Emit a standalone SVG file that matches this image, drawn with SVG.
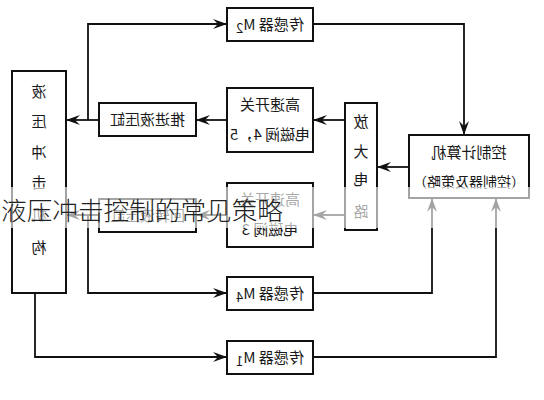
<svg xmlns="http://www.w3.org/2000/svg" width="544" height="400" viewBox="0 0 544 400">
<defs>
<style>
.box{fill:#fff;stroke:#111;stroke-width:2}
.ln{fill:none;stroke:#111;stroke-width:1.8}
.t{font-family:"Noto Sans CJK SC","Noto Sans",sans-serif;font-size:15px;fill:#1a1a1a;text-anchor:middle}
.s{font-size:13px}
.cap{font-family:"Noto Sans CJK SC","Noto Sans",sans-serif;font-size:25.5px;fill:#222;font-weight:300}
</style>
<marker id="ah" viewBox="0 0 14 10" refX="13" refY="5" markerWidth="14" markerHeight="10" markerUnits="userSpaceOnUse" orient="auto">
<path d="M0,0 L14,5 L0,10 L5,5 Z" fill="#111"/>
</marker>
</defs>
<rect width="544" height="400" fill="#fff"/>
<g id="connectors">
<polyline class="ln" points="99,120 67,120" marker-end="url(#ah)"/>
<polyline class="ln" points="88,120 88,24 226,24" marker-end="url(#ah)"/>
<polyline class="ln" points="313,24 464,24 464,134" marker-end="url(#ah)"/>
<polyline class="ln" points="227,120 197,120" marker-end="url(#ah)"/>
<polyline class="ln" points="345,120 314,120" marker-end="url(#ah)"/>
<polyline class="ln" points="409,167 378,167" marker-end="url(#ah)"/>
<polyline class="ln" points="345,215 314,215" marker-end="url(#ah)"/>
<polyline class="ln" points="227,215 197,215" marker-end="url(#ah)"/>
<polyline class="ln" points="99,215 67,215" marker-end="url(#ah)"/>
<polyline class="ln" points="88,215 88,293 226,293" marker-end="url(#ah)"/>
<polyline class="ln" points="35,293 35,357 226,357" marker-end="url(#ah)"/>
<polyline class="ln" points="313,293 432,293 432,199" marker-end="url(#ah)"/>
<polyline class="ln" points="313,357 496,357 496,199" marker-end="url(#ah)"/>
</g>
<g id="mechanism">
<rect class="box" x="12" y="71" width="54" height="222"/>
<g class="t" transform="scale(-1,1)">
<text x="-39" y="97">液</text>
<text x="-39" y="127">压</text>
<text x="-39" y="158">冲</text>
<text x="-39" y="188">击</text>
<text x="-39" y="220">机</text>
<text x="-39" y="253">构</text>
</g>
</g>
<g id="sensor-m2">
<rect class="box" x="227" y="8" width="86" height="33"/>
<text class="t" transform="scale(-1,1)" x="-270" y="30">传感器 M<tspan class="s" dy="3">2</tspan></text>
</g>
<g id="feed-cylinder">
<rect class="box" x="99" y="103" width="97" height="33"/>
<text class="t" transform="scale(-1,1)" x="-147.5" y="125">推进液压缸</text>
</g>
<g id="valve-45">
<rect class="box" x="227" y="88" width="86" height="64"/>
<text class="t" transform="scale(-1,1)" x="-270" y="110">高速开关</text>
<text class="t" transform="scale(-1,1)" x="-270" y="140">电磁阀 4，5</text>
</g>
<g id="amplifier">
<rect class="box" x="345" y="103" width="32" height="127"/>
<g class="t" transform="scale(-1,1)">
<text x="-361" y="127">放</text>
<text x="-361" y="157">大</text>
<text x="-361" y="185">电</text>
<text x="-361" y="217">路</text>
</g>
</g>
<g id="controller">
<rect class="box" x="409" y="135" width="120" height="63"/>
<text class="t" transform="scale(-1,1)" x="-469" y="158">控制计算机</text>
<text class="t" transform="scale(-1,1)" x="-469" y="187" style="font-size:14px">（控制器及策略）</text>
</g>
<g id="valve-3">
<rect class="box" x="227" y="183" width="86" height="64"/>
<text class="t" transform="scale(-1,1)" x="-270" y="205">高速开关</text>
<text class="t" transform="scale(-1,1)" x="-270" y="235">电磁阀 3</text>
</g>
<g id="rotary-cylinder">
<rect class="box" x="99" y="199" width="97" height="33"/>
<text class="t" transform="scale(-1,1)" x="-147.5" y="221">回转液压缸</text>
</g>
<g id="sensor-m4">
<rect class="box" x="227" y="277" width="86" height="33"/>
<text class="t" transform="scale(-1,1)" x="-270" y="299">传感器 M<tspan class="s" dy="3">4</tspan></text>
</g>
<g id="sensor-m1">
<rect class="box" x="227" y="341" width="86" height="33"/>
<text class="t" transform="scale(-1,1)" x="-270" y="363">传感器 M<tspan class="s" dy="3">1</tspan></text>
</g>
<rect x="0" y="187" width="544" height="41" fill="#fff" opacity="0.62"/>
<text class="cap" x="1" y="220" textLength="282" lengthAdjust="spacingAndGlyphs">液压冲击控制的常见策略</text>
</svg>
